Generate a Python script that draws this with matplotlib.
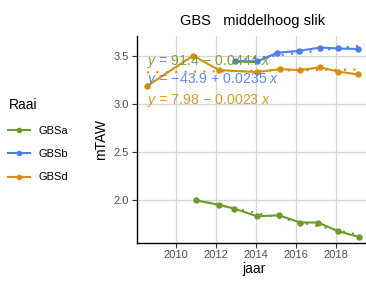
import numpy as np
import matplotlib
matplotlib.use("Agg")
import matplotlib.pyplot as plt
from matplotlib.lines import Line2D

plt.rcParams['font.family'] = ['Liberation Sans', 'DejaVu Sans']
plt.rcParams['mathtext.fontset'] = 'custom'
plt.rcParams['mathtext.it'] = 'Liberation Sans:italic'
plt.rcParams['mathtext.rm'] = 'Liberation Sans'

# ---- data ----
series_names = ["GBSa", "GBSb", "GBSd"]
gbsa_years = [2011.0, 2012.15, 2012.9, 2014.05, 2015.15, 2016.2, 2017.1, 2018.1, 2019.15]
gbsa_vals = [2.00, 1.955, 1.915, 1.835, 1.845, 1.77, 1.77, 1.68, 1.62]
gbsb_years = [2012.95, 2014.05, 2015.05, 2016.15, 2017.2, 2018.1, 2019.1]
gbsb_vals = [3.45, 3.445, 3.535, 3.555, 3.59, 3.58, 3.575]
gbsd_years = [2008.55, 2010.85, 2012.15, 2014.05, 2015.2, 2016.2, 2017.2, 2018.1, 2019.1]
gbsd_vals = [3.19, 3.505, 3.355, 3.335, 3.365, 3.355, 3.385, 3.34, 3.31]
eq_labels = ["$y$ = 91.4 \u2212 0.0444 $x$",
             "$y$ = \u221243.9 + 0.0235 $x$",
             "$y$ = 7.98 \u2212 0.0023 $x$"]
x_ticks = [2010, 2012, 2014, 2016, 2018]
y_ticks = [2.0, 2.5, 3.0, 3.5]

colors = ["#6E9A2A", "#4F7DEB", "#D4900F"]

W, H = 366, 282
fig = plt.figure(figsize=(W / 100, H / 100), dpi=100)
ax = fig.add_axes([136.7 / W, 1 - 242.7 / H, (371 - 136.7) / W, (242.7 - 36) / H])

data = [(gbsa_years, gbsa_vals), (gbsb_years, gbsb_vals), (gbsd_years, gbsd_vals)]
handles = []
for (xs, ys), c, name in zip(data, colors, series_names):
    xs = np.array(xs); ys = np.array(ys)
    ax.plot(xs, ys, color=c, lw=1.5, marker="o", ms=3.6, zorder=3)
    coef = np.polyfit(xs, ys, 1)
    xf = np.array([xs.min(), xs.max()])
    ax.plot(xf, np.polyval(coef, xf), color=c, lw=1.5, ls=(0, (1, 3.5)), zorder=2)
    handles.append(Line2D([], [], color=c, lw=1.5, marker="o", ms=3.0, label=name))

# equation labels
eq_y = [61, 80, 100]
for lab, c, yp in zip(eq_labels, colors, eq_y):
    fig.text(147 / W, 1 - yp / H, lab, color=c, fontsize=10.2, va="center", ha="left",
             alpha=0.9, zorder=5)

ax.set_xlim(2008.03, 2019.75)
ax.set_ylim(1.56, 3.71)
ax.set_xticks(x_ticks)
ax.set_yticks(y_ticks)
ax.set_yticklabels([f"{v:.1f}" for v in y_ticks])
ax.grid(True, color="#d4d4d4", lw=0.9)
ax.set_axisbelow(True)
for s in ["top", "right"]:
    ax.spines[s].set_visible(False)
for s in ["left", "bottom"]:
    ax.spines[s].set_color("black")
    ax.spines[s].set_linewidth(1.0)
ax.tick_params(axis="both", colors="#333333", labelcolor="#4d4d4d", labelsize=8,
               length=3.5, width=0.8, pad=2)

ax.set_xlabel("jaar", fontsize=10, color="black", labelpad=1)
ax.set_ylabel("mTAW", fontsize=10, color="black", labelpad=4)
fig.text(253 / W, 1 - 21 / H, "GBS   middelhoog slik", fontsize=10.5, ha="center",
         va="center", color="black")

leg = fig.legend(handles=handles, title="Raai", loc="upper left",
                 bbox_to_anchor=(4 / W, 1 - 94 / H), bbox_transform=fig.transFigure,
                 frameon=False, fontsize=8, title_fontsize=10, handlelength=1.9,
                 labelspacing=1.2, handletextpad=0.8, borderaxespad=0)
leg._legend_box.align = "left"

fig.savefig("out.png", dpi=100)
